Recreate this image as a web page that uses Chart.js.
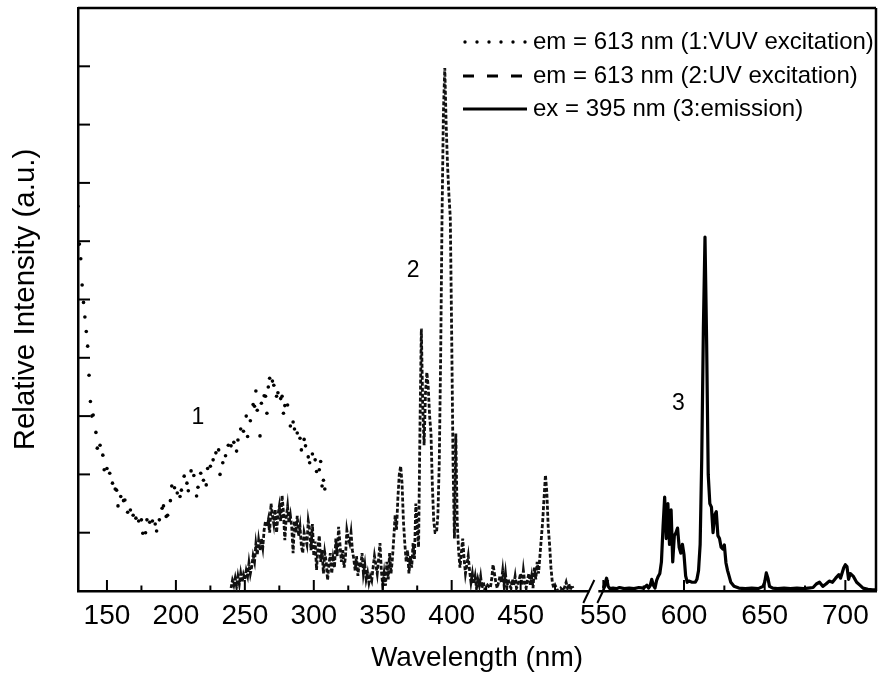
<!DOCTYPE html>
<html>
<head>
<meta charset="utf-8">
<script src="https://cdn.jsdelivr.net/npm/chart.js@4.4.1/dist/chart.umd.min.js"></script>
<style>
  html, body { margin: 0; padding: 0; background: #fff; }
</style>
</head>
<body>
<canvas id="chart" width="880" height="686"></canvas>
<script>
// 1: VUV excitation (em = 613 nm), dotted
const vuvNm = [
  129,130,131,132,133,134,135,136,137,138,
  139,140,142,143,145,147,148,150,152,154,
  156,157,158,160,162,163,165,167,169,171,
  173,175,176,178,179,181,183,185,186,188,
  190,191,193,194,196,197,199,201,203,204,
  206,208,209,211,213,215,216,218,220,222,
  223,225,227,229,231,232,234,236,238,240,
  242,244,245,247,249,251,252,254,256,257,
  258,259,261,262,264,265,266,267,268,270,
  271,273,274,276,277,278,279,281,283,285,
  286,288,290,291,293,294,296,297,299,301,
  302,304,305,306,307,308
];
const vuvVal = [
  6.6,5.95,5.7,5.25,4.95,4.7,4.45,4.2,3.7,3.25,
  3.0,3.02,2.72,2.45,2.5,2.33,2.08,2.1,2.02,1.85,
  1.75,1.73,1.46,1.62,1.55,1.56,1.35,1.39,1.3,1.25,
  1.2,1.22,0.99,1.0,1.22,1.18,1.2,1.15,1.03,1.22,
  1.42,1.46,1.28,1.3,1.55,1.8,1.77,1.68,1.62,1.73,
  1.97,1.85,1.72,2.06,1.98,1.63,1.78,2.02,1.9,1.82,
  2.1,2.14,2.25,2.37,2.42,2.0,2.2,2.32,2.5,2.49,
  2.55,2.4,2.59,2.78,2.74,3.0,2.65,2.92,3.2,3.17,
  3.43,3.1,2.66,3.22,3.35,3.34,3.05,3.5,3.65,3.6,
  3.53,3.34,3.4,3.3,3.34,3.05,3.18,3.19,2.83,2.9,
  2.78,2.71,2.62,2.42,2.6,2.49,2.3,2.2,2.35,2.25,
  2.05,2.08,2.22,1.8,1.9,1.75
];

// 2: UV excitation (em = 613 nm), dashed
const uvNm = [
  240,241,242,243,244,245,246,247,248,249,
  250,251,252,253,254,255,256,257,258,259,
  260,261,262,263,264,265,266,267,268,269,
  270,271,272,273,274,275,276,277,278,279,
  280,281,282,283,284,285,286,287,288,289,
  290,291,292,293,294,295,296,297,298,299,
  300,301,302,303,304,305,306,307,308,309,
  310,311,312,313,314,315,316,317,318,319,
  320,321,322,323,324,325,326,327,328,329,
  330,331,332,333,334,335,336,337,338,339,
  340,341,342,343,344,345,346,347,348,349,
  350,351,352,353,354,355,356,357,358,359,
  360,361,362,363,364,365,366,367,368,369,
  370,371,372,373,374,375,376,377,378,379,
  380,381,382,383,384,385,386,387,388,389,
  390,391,392,393,394,395,396,397,398,399,
  400,401,402,403,404,405,406,407,408,409,
  410,411,412,413,414,415,416,417,418,419,
  420,421,422,423,424,426,428,429,430,431,
  432,433,435,436,437,438,439,440,441,442,
  443,444,445,446,447,448,449,450,451,452,
  453,454,455,456,457,458,459,460,461,462,
  463,464,465,466,467,468,469,470,471,472,
  473,474,475,477,479,481,483,484,485,486,
  487,488
];
const uvVal = [
  0.05,0.18,0.1,0.22,0.08,0.25,0.12,0.3,0.15,0.28,
  0.2,0.35,0.26,0.48,0.3,0.42,0.6,0.5,0.8,0.62,
  0.87,0.7,0.9,0.75,1.05,1.2,1.1,1.22,1.0,1.5,
  1.3,1.15,1.4,1.0,1.3,1.45,1.2,1.64,1.35,0.87,
  1.25,1.45,1.17,1.3,1.1,0.65,1.2,1.0,1.29,0.94,
  1.1,0.77,0.65,1.0,0.9,0.8,1.2,1.05,0.7,1.15,
  0.6,0.85,0.36,0.75,0.95,0.5,0.7,0.3,0.65,0.5,
  0.19,0.45,0.65,0.3,0.55,0.4,0.9,0.6,1.1,0.8,
  0.5,0.7,0.4,0.6,1.04,0.9,0.82,1.0,0.7,0.55,
  0.35,0.6,0.26,0.5,0.4,0.65,0.3,0.45,0.2,0.31,
  0.14,0.25,0.18,0.4,0.6,0.45,0.3,0.55,0.82,0.35,
  0.1,0.3,0.09,0.5,0.2,0.65,0.3,0.55,0.9,1.3,
  1.05,1.6,2.0,2.14,1.85,1.2,0.82,0.5,0.7,0.3,
  0.6,0.4,0.82,0.55,1.5,1.1,0.75,2.8,4.5,3.2,
  2.5,3.4,3.75,3.5,3.0,2.7,1.8,1.2,1.0,1.0,
  1.3,2.2,4.0,6.4,8.2,8.97,8.0,7.3,6.8,6.4,
  4.4,2.2,0.9,2.7,1.2,0.7,0.4,0.65,0.9,0.55,
  0.3,0.45,0.6,0.35,0.15,0.3,0.12,0.25,0.05,0.2,
  0.1,0.25,0.05,0.15,0.02,0.1,0.05,0.2,0.45,0.3,
  0.15,0.05,0.25,0.15,0.35,0.1,0.3,0.05,0.2,0.1,
  0.05,0.2,0.1,0.25,0.05,0.1,0.2,0.3,0.1,0.35,
  0.15,0.05,0.2,0.3,0.1,0.25,0.05,0.4,0.2,0.5,
  0.3,0.6,0.9,1.2,1.6,1.99,1.7,1.1,0.8,0.4,
  0.15,0.05,0.1,0.0,0.05,0.0,0.15,0.05,0.12,0.02,
  0.1,0.05
];

// 3: emission (ex = 395 nm), solid
const emNm = [
  550,551,552,553,554,556,558,560,563,566,
  569,572,575,577,578,579,580,581,582,583,
  584,585,586,587,588,589,590,591,592,593,
  594,595,596,597,598,599,600,601,602,603,
  605,607,608,609,610,611,612,613,614,615,
  616,617,618,619,620,621,622,623,624,625,
  626,627,628,629,631,634,638,642,646,649,
  650,651,652,653,655,658,662,666,670,674,
  677,680,682,684,686,688,690,692,694,696,
  697,699,700,701,702,703,705,707,709,711,
  714,717,719
];
const emVal = [
  0.05,0.12,0.22,0.08,0.04,0.05,0.04,0.06,0.04,0.05,
  0.04,0.06,0.05,0.1,0.05,0.09,0.2,0.1,0.05,0.18,
  0.25,0.3,0.5,1.1,1.61,0.9,1.5,0.8,1.39,0.5,
  0.95,1.0,1.08,0.75,0.65,0.8,0.62,0.26,0.15,0.17,
  0.15,0.15,0.2,0.35,0.8,2.3,4.5,6.07,4.3,2.0,
  1.5,1.44,1.0,1.3,1.36,0.95,0.9,0.75,0.72,0.79,
  0.48,0.35,0.25,0.15,0.08,0.05,0.04,0.05,0.04,0.08,
  0.15,0.31,0.22,0.08,0.05,0.04,0.05,0.04,0.05,0.04,
  0.05,0.06,0.12,0.15,0.08,0.12,0.17,0.15,0.22,0.28,
  0.22,0.4,0.45,0.42,0.2,0.3,0.25,0.15,0.1,0.05,
  0.03,0.02,0.02
];

const tickNm = [150, 200, 250, 300, 350, 400, 450, 550, 600, 650, 700];
const minorNm = [175, 225, 275, 325, 375, 425, 475, 575, 625, 675];
const yTickVals = [1, 2, 3, 4, 5, 6, 7, 8, 9];
const peakLabels = [
  { text: '1', nm: 216, v: 2.97 },
  { text: '2', nm: 372, v: 5.49 },
  { text: '3', nm: 596.5, v: 3.22 }
];

// broken wavelength axis: 129-500 nm, then 550-719 nm slightly stretched
const X_MIN = 129, X_MAX_NM = 719, BREAK_U = 502;
function toAxis(nm) { return nm < 520 ? nm : 510 + (nm - 550) * 1.17; }
function fromAxis(u) { return u < 505 ? u : 550 + (u - 510) / 1.17; }
function pts(xs, ys) { return xs.map((n, i) => ({ x: toAxis(n), y: ys[i] })); }

const FONT = "'Liberation Sans', Arial, sans-serif";

const decor = {
  id: 'decor',
  afterDraw(chart) {
    const { ctx, chartArea: a, scales: { x, y } } = chart;
    const seg = (x1, y1, x2, y2) => { ctx.beginPath(); ctx.moveTo(x1, y1); ctx.lineTo(x2, y2); ctx.stroke(); };
    ctx.save();
    ctx.strokeStyle = '#000';
    ctx.lineWidth = 2.5;
    seg(a.left, a.top, a.right, a.top);
    seg(a.right, a.top, a.right, a.bottom);

    // inward ticks
    ctx.lineWidth = 2;
    tickNm.forEach(n => { const px = x.getPixelForValue(toAxis(n)); seg(px, a.bottom, px, a.bottom - 11); });
    minorNm.forEach(n => { const px = x.getPixelForValue(toAxis(n)); seg(px, a.bottom, px, a.bottom - 5.5); });
    yTickVals.forEach(v => { const py = y.getPixelForValue(v); seg(a.left, py, a.left + 12, py); });

    // axis break
    const bx = x.getPixelForValue(BREAK_U);
    ctx.fillStyle = '#fff';
    ctx.fillRect(bx - 3, a.bottom - 2, 9, 4);
    ctx.lineWidth = 2;
    seg(bx - 9, a.bottom + 12, bx + 2, a.bottom - 11);
    seg(bx + 5, a.bottom + 12, bx + 16, a.bottom - 11);

    // curve numbers
    ctx.fillStyle = '#000';
    ctx.font = '23px ' + FONT;
    ctx.textAlign = 'center';
    ctx.textBaseline = 'middle';
    peakLabels.forEach(l => ctx.fillText(l.text, x.getPixelForValue(toAxis(l.nm)), y.getPixelForValue(l.v)));

    // legend
    const lx = 463, rows = [42, 76, 109];
    ctx.font = '24px ' + FONT;
    ctx.textAlign = 'left';
    chart.data.datasets.forEach((ds, i) => {
      const ry = rows[i];
      if (i === 0) {
        for (let k = 0; k < 6; k++) {
          ctx.beginPath(); ctx.arc(lx + 2 + k * 12, ry, 1.7, 0, Math.PI * 2); ctx.fill();
        }
      } else {
        ctx.lineWidth = ds.borderWidth;
        ctx.setLineDash(i === 1 ? [11, 13] : []);
        seg(lx, ry, lx + 64, ry);
        ctx.setLineDash([]);
      }
      ctx.fillText(ds.label, lx + 70, ry);
    });
    ctx.restore();
  }
};

new Chart(document.getElementById('chart'), {
  type: 'scatter',
  data: {
    datasets: [
      {
        label: 'em = 613 nm (1:VUV excitation)',
        data: pts(vuvNm, vuvVal),
        showLine: false,
        pointRadius: 1.8,
        pointBorderWidth: 0,
        pointBackgroundColor: '#000'
      },
      {
        label: 'em = 613 nm (2:UV excitation)',
        data: pts(uvNm, uvVal),
        showLine: true,
        borderColor: '#111',
        borderWidth: 2.8,
        borderDash: [4, 2],
        pointRadius: 0
      },
      {
        label: 'ex = 395 nm (3:emission)',
        data: pts(emNm, emVal),
        showLine: true,
        borderColor: '#000',
        borderWidth: 3.2,
        borderJoinStyle: 'round',
        pointRadius: 0
      }
    ]
  },
  options: {
    responsive: false,
    animation: false,
    layout: { padding: { left: 0, right: 3, top: 8, bottom: 0 } },
    plugins: { legend: { display: false }, tooltip: { enabled: false } },
    scales: {
      x: {
        type: 'linear',
        min: X_MIN,
        max: toAxis(X_MAX_NM),
        afterBuildTicks: s => { s.ticks = tickNm.map(n => ({ value: toAxis(n) })); },
        afterFit: s => { s.height = 95; },
        grid: { display: false, drawTicks: false },
        border: { display: true, color: '#000', width: 2.5 },
        ticks: {
          color: '#000',
          font: { family: FONT, size: 28 },
          padding: 8,
          maxRotation: 0,
          autoSkip: false,
          callback: v => Math.round(fromAxis(v))
        },
        title: {
          display: true,
          text: 'Wavelength (nm)',
          color: '#000',
          font: { family: FONT, size: 28 },
          padding: { top: 0, bottom: 11 }
        }
      },
      y: {
        min: 0,
        max: 10,
        afterFit: s => { s.width = 78; },
        grid: { display: false, drawTicks: false },
        border: { display: true, color: '#000', width: 2.5 },
        ticks: { display: false },
        title: {
          display: true,
          text: 'Relative Intensity (a.u.)',
          color: '#000',
          font: { family: FONT, size: 29.5 },
          padding: { top: 8, bottom: 0 }
        }
      }
    }
  },
  plugins: [decor]
});
</script>
</body>
</html>
